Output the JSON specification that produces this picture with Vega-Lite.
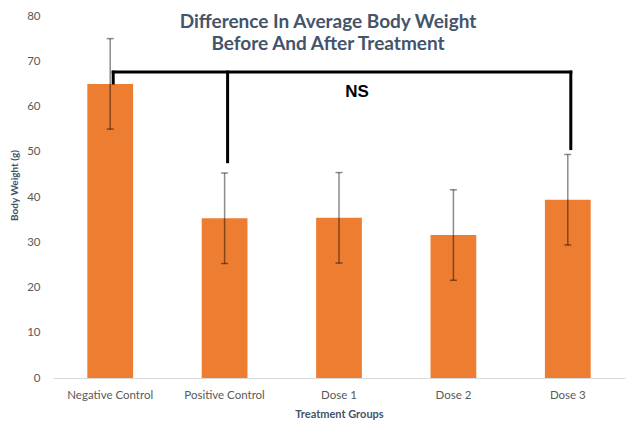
{
  "$schema": "https://vega.github.io/schema/vega-lite/v6.json",
  "width": 572,
  "height": 362,
  "autosize": "none",
  "padding": {"left": 53, "top": 16, "right": 1, "bottom": 48},
  "background": "white",
  "config": {
    "view": {"stroke": null},
    "font": "Lato",
    "axisY": {
      "grid": false,
      "domain": false,
      "ticks": false,
      "labelOverlap": false,
      "labelFont": "Lato",
      "labelFontSize": 11.5,
      "labelColor": "#595959",
      "labelPadding": 13
    }
  },
  "title": {
    "text": ["Difference In Average Body Weight", "Before And After Treatment"],
    "font": "Lato",
    "fontSize": 19,
    "fontWeight": "bold",
    "color": "#44546A",
    "anchor": "middle",
    "lineHeight": 22,
    "offset": -44,
    "dx": -11
  },
  "datasets": {
    "groups": [
      {"group": "Negative Control", "weight": 65.0, "lo": 55.0, "hi": 75.0},
      {"group": "Positive Control", "weight": 35.3, "lo": 25.3, "hi": 45.3},
      {"group": "Dose 1", "weight": 35.4, "lo": 25.4, "hi": 45.4},
      {"group": "Dose 2", "weight": 31.6, "lo": 21.6, "hi": 41.6},
      {"group": "Dose 3", "weight": 39.4, "lo": 29.4, "hi": 49.4}
    ],
    "legs": [
      {"group": "Negative Control", "top": 67.6, "bottom": 65.2},
      {"group": "Positive Control", "top": 67.6, "bottom": 47.8},
      {"group": "Dose 3", "top": 67.6, "bottom": 50.7}
    ],
    "span": [{"from": "Negative Control", "to": "Dose 3", "level": 67.6}],
    "note": [{"group": "Dose 1", "label": "NS", "pos": 63.2}]
  },
  "encoding": {
    "x": {
      "field": "group",
      "type": "nominal",
      "scale": {
        "domain": ["Negative Control", "Positive Control", "Dose 1", "Dose 2", "Dose 3"],
        "paddingInner": 0.6,
        "paddingOuter": 0.3
      },
      "axis": {
        "title": "Treatment Groups",
        "titleFont": "Lato",
        "titleFontSize": 11,
        "titleFontWeight": "bold",
        "titleColor": "#44546A",
        "titlePadding": 8,
        "labelAngle": 0,
        "labelFont": "Lato",
        "labelFontSize": 11.5,
        "labelColor": "#595959",
        "labelPadding": 11,
        "ticks": false,
        "domainColor": "#D9D9D9",
        "domainWidth": 1
      }
    }
  },
  "layer": [
    {
      "data": {"name": "groups"},
      "mark": {"type": "bar", "color": "#ED7D31"},
      "encoding": {
        "y": {
          "field": "weight",
          "type": "quantitative",
          "scale": {"domain": [0, 80], "nice": false},
          "axis": {
            "title": "Body Weight (g)",
            "titleFont": "Lato",
            "titleFontSize": 10,
            "titleFontWeight": "bold",
            "titleColor": "#44546A",
            "titleX": -39,
            "titleY": 169,
            "titleAlign": "center",
            "titleBaseline": "middle",
            "values": [0, 10, 20, 30, 40, 50, 60, 70, 80]
          }
        }
      }
    },
    {
      "data": {"name": "groups"},
      "mark": {"type": "rule", "color": "black", "opacity": 0.45, "strokeWidth": 1.5},
      "encoding": {
        "y": {"field": "lo", "type": "quantitative"},
        "y2": {"field": "hi"}
      }
    },
    {
      "data": {"name": "groups"},
      "mark": {"type": "tick", "color": "black", "opacity": 0.45, "size": 7, "thickness": 1.5},
      "encoding": {"y": {"field": "lo", "type": "quantitative"}}
    },
    {
      "data": {"name": "groups"},
      "mark": {"type": "tick", "color": "black", "opacity": 0.45, "size": 7, "thickness": 1.5},
      "encoding": {"y": {"field": "hi", "type": "quantitative"}}
    },
    {
      "data": {"name": "legs"},
      "mark": {"type": "rule", "color": "black", "strokeWidth": 3, "strokeCap": "square", "xOffset": 3},
      "encoding": {
        "y": {"field": "top", "type": "quantitative"},
        "y2": {"field": "bottom"}
      }
    },
    {
      "data": {"name": "span"},
      "mark": {"type": "rule", "color": "black", "strokeWidth": 3, "strokeCap": "square", "xOffset": 3, "x2Offset": 3},
      "encoding": {
        "x": {"field": "from", "type": "nominal"},
        "x2": {"field": "to"},
        "y": {"field": "level", "type": "quantitative"}
      }
    },
    {
      "data": {"name": "note"},
      "mark": {"type": "text", "font": "Liberation Sans", "fontSize": 17, "fontWeight": "bold", "color": "black", "dx": 18},
      "encoding": {
        "y": {"field": "pos", "type": "quantitative"},
        "text": {"field": "label"}
      }
    }
  ]
}
